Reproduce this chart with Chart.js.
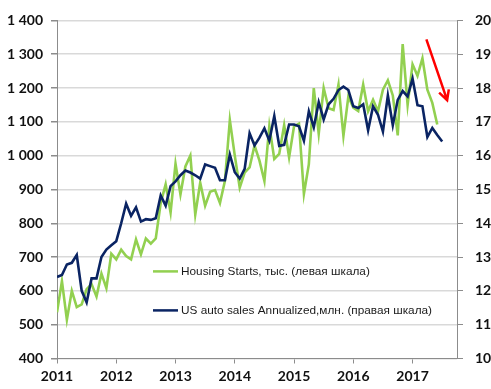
<!DOCTYPE html>
<html>
<head>
<meta charset="utf-8">
<script src="https://cdn.jsdelivr.net/npm/chart.js@4.4.1/dist/chart.umd.min.js"></script>
<style>
  html, body { margin: 0; padding: 0; background: #fff; }
  #wrap { width: 491px; height: 389px; position: relative; }
</style>
</head>
<body>
<div id="wrap"><canvas id="c"></canvas></div>
<script>
// Year tick labels (x axis), one every 12 monthly points
const yearLabels = ['2011', '2012', '2013', '2014', '2015', '2016', '2017'];
// Left axis tick labels (тыс.)
const leftTickLabels = ['400', '500', '600', '700', '800', '900', '1 000', '1 100', '1 200', '1 300', '1 400'];
// Right axis tick labels (млн.)
const rightTickLabels = ['10', '11', '12', '13', '14', '15', '16', '17', '18', '19', '20'];

// Housing Starts, thousands (monthly points, first point on the 2011 tick)
const housingStarts = [
  537, 629, 515, 600, 552, 560, 605, 620, 583, 651, 608, 710,
  693, 722, 703, 693, 752, 708, 755, 740, 755, 860, 915, 832,
  976, 885, 968, 1000, 826, 920, 852, 893, 898, 860, 925, 1105,
  1000, 905, 950, 965, 1030, 985, 925, 1088, 990, 1005, 1090, 995,
  1087, 1095, 887, 975, 1200, 1065, 1200, 1140, 1135, 1210, 1058, 1175,
  1142, 1132, 1210, 1131, 1165, 1131, 1195, 1223, 1178, 1060, 1330, 1150,
  1270, 1236, 1288, 1195, 1156, 1092
];

// US auto sales annualized, millions
const autoSales = [
  12.41, 12.47, 12.78, 12.83, 13.06, 12.00, 11.66, 12.37, 12.37, 13.00, 13.22, 13.35,
  13.47, 14.00, 14.58, 14.22, 14.47, 14.05, 14.12, 14.10, 14.15, 14.82, 14.52, 15.10,
  15.24, 15.42, 15.56, 15.50, 15.42, 15.32, 15.74, 15.69, 15.64, 15.27, 15.27, 16.03,
  15.51, 15.32, 15.61, 16.66, 16.30, 16.53, 16.81, 16.44, 17.17, 16.29, 16.32, 16.92,
  16.92, 16.87, 16.44, 17.31, 16.84, 17.58, 17.07, 17.52, 17.68, 17.94, 18.04, 17.94,
  17.46, 17.41, 17.52, 16.75, 17.46, 17.21, 16.71, 17.78, 16.90, 17.65, 17.91, 17.75,
  18.28, 17.49, 17.46, 16.55, 16.82, 16.61, 16.42
];

const seriesNames = [
  'Housing Starts, тыс. (левая шкала)',
  'US auto sales Annualized,млн. (правая шкала)'
];

// Trend arrow annotation (month index, left-axis value)
const arrowFrom = { x: 74.8, y: 1344 };
const arrowTo = { x: 79.0, y: 1164 };

const GREEN = '#92D050';
const BLUE = '#0A2463';
const AXIS = '#8c8c8c';
const GRID = '#d9d9d9';
const TICKFONT = { family: 'Lato', size: 14, weight: 'bold' };

const toXY = arr => arr.map((v, i) => ({ x: i, y: v }));

const legendPlugin = {
  id: 'inlineLegend',
  afterDatasetsDraw(chart) {
    const ctx = chart.ctx;
    const a = chart.chartArea;
    const rows = [a.top + 251, a.top + 290];
    ctx.save();
    chart.data.datasets.forEach((ds, i) => {
      const y = rows[i];
      const x0 = a.left + 96;
      ctx.strokeStyle = ds.borderColor;
      ctx.lineWidth = 2.5;
      ctx.beginPath();
      ctx.moveTo(x0, y);
      ctx.lineTo(x0 + 25, y);
      ctx.stroke();
      ctx.fillStyle = '#1a1a1a';
      ctx.font = '11.8px "Liberation Sans", Arial, sans-serif';
      ctx.textBaseline = 'middle';
      ctx.textAlign = 'left';
      ctx.fillText(ds.label, x0 + 28, y);
    });
    ctx.restore();
  }
};

const arrowPlugin = {
  id: 'trendArrow',
  afterDatasetsDraw(chart) {
    const xs = chart.scales.x, ys = chart.scales.y;
    const x1 = xs.getPixelForValue(arrowFrom.x), y1 = ys.getPixelForValue(arrowFrom.y);
    const x2 = xs.getPixelForValue(arrowTo.x), y2 = ys.getPixelForValue(arrowTo.y);
    const ang = Math.atan2(y2 - y1, x2 - x1);
    const head = 11, spread = Math.PI / 6.5;
    const ctx = chart.ctx;
    ctx.save();
    ctx.strokeStyle = '#ff0000';
    ctx.lineWidth = 2.5;
    ctx.lineCap = 'butt';
    ctx.beginPath();
    ctx.moveTo(x1, y1);
    ctx.lineTo(x2, y2);
    ctx.moveTo(x2 - head * Math.cos(ang - spread), y2 - head * Math.sin(ang - spread));
    ctx.lineTo(x2, y2);
    ctx.lineTo(x2 - head * Math.cos(ang + spread), y2 - head * Math.sin(ang + spread));
    ctx.stroke();
    ctx.restore();
  }
};

new Chart(document.getElementById('c'), {
  type: 'line',
  data: {
    datasets: [
      {
        label: seriesNames[0],
        data: toXY(housingStarts),
        yAxisID: 'y',
        borderColor: GREEN,
        borderWidth: 2.6,
        pointRadius: 0,
        tension: 0,
        order: 2
      },
      {
        label: seriesNames[1],
        data: toXY(autoSales),
        yAxisID: 'y1',
        borderColor: BLUE,
        borderWidth: 2.6,
        pointRadius: 0,
        tension: 0,
        order: 1
      }
    ]
  },
  options: {
    responsive: true,
    maintainAspectRatio: false,
    animation: false,
    layout: { padding: { top: 16, left: 0, right: 0, bottom: 0 } },
    plugins: { legend: { display: false }, tooltip: { enabled: false } },
    scales: {
      x: {
        type: 'linear',
        min: 0,
        max: 81,
        afterBuildTicks(scale) {
          scale.ticks = yearLabels.map((_, i) => ({ value: i * 12 }));
        },
        afterFit(scale) { scale.height = 30.5; },
        ticks: {
          autoSkip: false,
          maxRotation: 0,
          padding: 5,
          color: '#111',
          font: TICKFONT,
          callback: v => yearLabels[Math.round(v / 12)]
        },
        grid: { drawOnChartArea: false, tickLength: 5, color: AXIS, tickColor: AXIS },
        border: { color: AXIS, width: 1 }
      },
      y: {
        position: 'left',
        min: 400,
        max: 1400,
        afterFit(scale) { scale.width = 57; },
        ticks: {
          stepSize: 100,
          padding: 8,
          color: '#111',
          font: TICKFONT,
          callback: v => leftTickLabels[Math.round((v - 400) / 100)]
        },
        grid: { color: GRID, lineWidth: 1.5, tickLength: 6, tickColor: AXIS, drawTicks: true },
        border: { color: AXIS, width: 1 }
      },
      y1: {
        position: 'right',
        min: 10,
        max: 20,
        afterFit(scale) { scale.width = 34; },
        ticks: {
          stepSize: 1,
          padding: 12,
          color: '#111',
          font: TICKFONT,
          callback: v => rightTickLabels[Math.round(v - 10)]
        },
        grid: { drawOnChartArea: false, tickLength: 6, tickColor: AXIS },
        border: { color: AXIS, width: 1 }
      }
    }
  },
  plugins: [legendPlugin, arrowPlugin]
});
</script>
</body>
</html>
